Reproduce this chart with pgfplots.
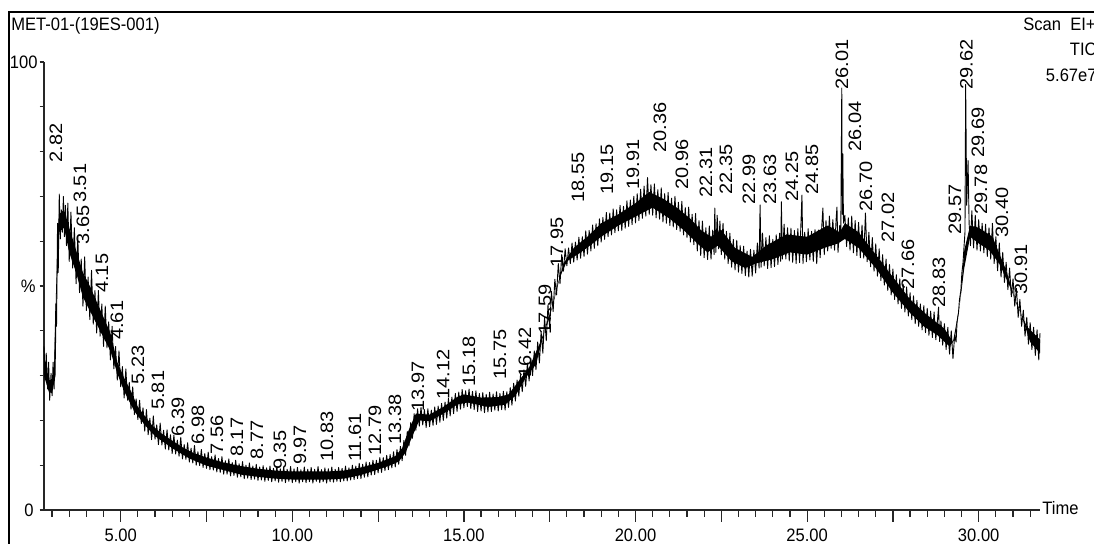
\documentclass[border=0pt]{standalone}
\usepackage{fontspec}
\setmainfont{Liberation Sans}
\newfontfamily\narrowfont[FakeStretch=0.92]{Liberation Sans}
\usepackage{graphicx}
\usepackage{pgfplots}
\pgfplotsset{compat=1.18}
\newcommand{\pk}[3]{\node[rotate=90,anchor=west,inner sep=0pt,font=\fontsize{10}{12}\selectfont] at (axis cs:#1,#2) {\scalebox{1}[0.9]{#3}};}
\begin{document}
\begin{tikzpicture}[x=1pt,y=1pt]
\useasboundingbox (-22,-17) rectangle (525,255);
\draw[line width=0.75pt] (-17.5,-30) -- (-17.5,249) -- (540,249);
\node[anchor=base west,inner sep=0pt,font=\narrowfont\fontsize{9}{11}\selectfont] at (-16.5,239.65) {MET-01-(19ES-001)};
\node[anchor=base east,inner sep=0pt,font=\narrowfont\fontsize{9}{11}\selectfont] at (526,239.65) {Scan\ \ EI+};
\node[anchor=base east,inner sep=0pt,font=\narrowfont\fontsize{9}{11}\selectfont] at (526.5,227) {TIC};
\node[anchor=base east,inner sep=0pt,font=\narrowfont\fontsize{9}{11}\selectfont] at (526.5,214.2) {5.67e7};
\begin{axis}[
  at={(0,0)}, anchor=south west, scale only axis,
  width=498pt, height=224pt,
  xmin=2.765, xmax=31.786, ymin=0, ymax=100,
  axis x line*=bottom, axis y line*=left,
  xtick={5,10,15,20,25,30},
  xticklabels={5.00,10.00,15.00,20.00,25.00,30.00},
  extra x ticks={7.5,12.5,17.5,22.5,27.5},
  extra x tick labels={},
  minor xtick={3,3.5,...,31.5},
  ytick={0,10,...,100},
  yticklabels={0\kern2pt,,,,,\%\kern1pt,,,,,100},
  tick align=outside,
  major tick length=6pt, minor tick length=3.5pt,
  y tick style={/pgfplots/major tick length=2.2pt},
  tick style={black!85, line width=0.6pt},
  axis line style={black!85, line width=0.8pt},
  xticklabel style={font=\narrowfont\fontsize{9}{11}\selectfont, inner sep=0pt, yshift=-3.2pt},
  yticklabel style={font=\narrowfont\fontsize{9}{11}\selectfont, inner sep=0pt, xshift=3pt},
  clip=false,
]
\addplot[fill=black, draw=none] coordinates {
(2.765,34) (2.9,29) (3.05,29) (3.12,50) (3.2,66) (3.35,67) (3.5,63) (3.7,58) (3.9,53) (4.1,50) (4.3,46.5) (4.5,43) (4.7,39.5) (4.9,33) (5.1,29.5) (5.3,26.5) (5.5,23) (5.7,21) (5.9,19) (6.2,17) (6.5,15.5) (6.8,14) (7.1,12.8) (7.5,11.7) (8.0,10.6) (8.5,9.8) (9.0,9.2) (9.5,8.8) (10,8.6) (11,8.6) (11.5,8.8) (12,9.5) (12.5,10.5) (13.0,12.0) (13.2,13.8) (13.4,18.0) (13.6,21.5) (14.0,21.3) (14.4,23.0) (14.8,25.2) (15.0,25.8) (15.5,25.1) (16.0,25.2) (16.3,25.8) (16.6,28.8) (16.9,31.8) (17.2,37.0) (17.5,43.0) (17.7,49.5) (17.9,55.0) (18.2,58.5) (18.6,61.0) (19.0,64.0) (19.5,66.0) (20.0,68.5) (20.4,71.0) (20.8,69.5) (21.2,67.5) (21.6,65.0) (21.9,62.5) (22.2,61.0) (22.5,62.5) (22.9,58.5) (23.4,56.5) (23.8,59.0) (24.4,61.5) (25.0,61.0) (25.6,63.5) (25.95,62.0) (26.1,64.0) (26.5,62.0) (27.0,57.0) (27.5,52.0) (28.0,47.0) (28.5,43.5) (29.0,40.5) (29.25,37.5) (29.45,46.0) (29.58,58) (29.75,63.5) (30.0,63.0) (30.4,61.0) (30.8,53.5) (31.1,46.0) (31.4,41.0) (31.786,38)
(31.786,35) (31.5,37.5) (31.2,44.5) (30.9,50) (30.6,55) (30.3,58) (30.0,59.5) (29.75,61) (29.58,54) (29.45,46) (29.3,38) (29.15,36.5) (28.8,39.0) (28.4,41.0) (28.0,44.0) (27.5,48.5) (27.0,54.0) (26.5,58.5) (26.1,60.5) (25.9,59.5) (25.5,58.5) (25.0,57.0) (24.5,57.5) (24.0,56.0) (23.5,55.0) (23.2,54.0) (22.8,55.5) (22.4,59.0) (22.1,57.5) (21.8,59.5) (21.4,62.5) (21.0,65.0) (20.5,67.5) (20.0,65.5) (19.5,63.5) (19.0,61.0) (18.5,58.0) (18.0,55.5) (17.8,52.0) (17.6,46.0) (17.4,41.5) (17.1,32.5) (16.8,29.5) (16.5,25.5) (16.2,23.5) (15.7,23.0) (15.1,24.0) (14.8,23.5) (14.4,21.5) (14.0,19.8) (13.7,20.0) (13.5,16.5) (13.3,12.8) (13.1,10.8) (12.8,9.8) (12.4,8.8) (12.0,7.8) (11.5,7.0) (11.0,6.8) (10.0,6.8) (9.5,7.0) (9.0,7.4) (8.5,7.9) (8.0,8.9) (7.5,9.9) (7.0,11.5) (6.5,13.8) (6.0,16.5) (5.7,19.0) (5.4,22.0) (5.1,26.5) (4.9,30.5) (4.7,35.5) (4.5,38.5) (4.3,41.5) (4.1,44.5) (3.9,47.5) (3.7,53) (3.5,57.5) (3.35,63) (3.2,62) (3.14,50) (3.1,30) (3.0,26) (2.9,26.5) (2.765,30)
} -- cycle;
\addplot[black, line width=0.45pt, line join=round] table {
2.765 36.5
2.80 29
2.83 35
2.87 27
2.90 33
2.93 24.5
2.97 30.5
3.00 25.5
3.03 33
3.06 27
3.09 38
3.11 46
3.13 41
3.16 64
3.18 53
3.21 70.5
3.24 60.5
3.27 67
3.30 62
3.33 70
3.36 61
3.39 68
3.42 59
3.46 68.5
3.50 55.5
3.55 66.5
3.60 54
3.65 63
3.70 50.5
3.75 61
3.80 48.5
3.85 56
3.90 45.5
3.95 56.5
4.00 44.5
4.05 52
4.10 42.5
4.15 53.5
4.20 41.5
4.25 49
4.30 39.5
4.35 49
4.40 38.8
4.45 46
4.50 36.5
4.55 45.5
4.60 36.2
4.65 42
4.70 33.5
4.75 41
4.80 31.5
4.85 36.5
4.90 29
4.95 35.5
5.00 27.5
5.05 32
5.10 25
5.15 31.5
5.20 24.5
5.25 28.5
5.30 22.5
5.35 27.5
5.40 21.3
5.45 24.8
5.50 20.2
5.55 24.5
5.60 19.3
5.65 22.8
5.70 17.6
5.75 22.4
5.80 16.8
5.85 20.5
5.90 15.7
5.95 21.0
6.00 15.8
6.05 19.0
6.10 14.6
6.15 19.4
6.20 14.5
6.25 17.8
6.30 13.6
6.35 17.9
6.40 13.4
6.45 16.8
6.50 12.6
6.55 16.7
6.60 12.5
6.65 15.6
6.70 12.0
6.75 16.2
6.80 11.4
6.85 14.6
6.90 11.3
6.95 15.0
7.00 10.7
7.05 13.8
7.10 10.5
7.15 14.4
7.20 10.0
7.25 13.0
7.30 9.9
7.35 13.5
7.40 9.5
7.45 12.6
7.50 9.3
7.55 12.9
7.60 9.0
7.65 11.9
7.70 8.9
7.75 12.3
7.80 8.5
7.85 11.5
7.90 8.4
7.95 11.9
8.00 8.0
8.05 11.0
8.10 8.0
8.15 11.4
8.20 7.6
8.25 10.6
8.30 7.7
8.35 11.1
8.40 7.3
8.45 10.3
8.50 7.4
8.55 10.8
8.60 7.0
8.65 10.0
8.70 7.1
8.75 10.5
8.80 6.8
8.85 9.8
8.90 6.9
8.95 10.2
9.00 6.6
9.05 9.6
9.10 6.7
9.15 9.9
9.20 6.4
9.25 9.4
9.30 6.6
9.35 9.8
9.40 6.3
9.45 9.3
9.50 6.5
9.55 9.7
9.60 6.2
9.65 9.2
9.70 6.4
9.75 9.6
9.80 6.1
9.85 9.1
9.90 6.4
9.95 9.7
10.00 6.1
10.05 9.2
10.10 6.3
10.15 9.5
10.20 6.0
10.25 9.0
10.30 6.3
10.35 9.6
10.40 6.1
10.45 9.1
10.50 6.3
10.55 9.5
10.60 6.0
10.65 9.1
10.70 6.4
10.75 9.7
10.80 6.1
10.85 9.0
10.90 6.3
10.95 9.4
11.00 6.0
11.05 9.2
11.10 6.3
11.15 9.6
11.20 6.2
11.25 9.1
11.30 6.4
11.35 9.5
11.40 6.3
11.45 9.3
11.50 6.5
11.55 9.8
11.60 6.5
11.65 9.4
11.70 6.7
11.75 10.0
11.80 6.8
11.85 9.8
11.90 7.0
11.95 10.4
12.00 7.0
12.05 10.2
12.10 7.3
12.15 10.7
12.20 7.4
12.25 10.6
12.30 7.8
12.35 11.1
12.40 7.9
12.45 11.1
12.50 8.3
12.55 11.7
12.60 8.4
12.65 11.7
12.70 8.8
12.75 12.2
12.80 9.0
12.85 12.4
12.90 9.4
12.95 13.0
13.00 9.6
13.05 13.5
13.10 10.2
13.15 14.2
13.20 11.0
13.25 15.5
13.30 12.2
13.35 17.5
13.40 14.3
13.45 19.5
13.50 16.0
13.55 21.5
13.60 17.8
13.65 22.6
13.70 18.7
13.75 22.9
13.80 19.0
13.85 22.4
13.90 18.4
13.95 22.6
14.00 18.6
14.05 22.3
14.10 18.9
14.15 23.0
14.20 19.1
14.25 23.2
14.30 19.6
14.35 23.8
14.40 20.0
14.45 24.1
14.50 20.5
14.55 24.9
14.60 21.0
14.65 25.2
14.70 21.5
14.75 26.0
14.80 22.0
14.85 26.3
14.90 22.5
14.95 26.9
15.00 22.8
15.05 26.6
15.10 23.1
15.15 27.0
15.20 22.6
15.25 26.5
15.30 22.4
15.35 26.6
15.40 22.0
15.45 26.0
15.50 22.1
15.55 26.2
15.60 21.7
15.65 25.8
15.70 21.9
15.75 26.3
15.80 22.0
15.85 25.9
15.90 22.3
15.95 26.4
16.00 22.1
16.05 26.0
16.10 22.4
16.15 26.5
16.20 22.3
16.25 26.4
16.30 22.9
16.35 27.3
16.40 23.4
16.45 28.3
16.50 24.3
16.55 29.0
16.60 25.4
16.65 30.2
16.70 26.4
16.75 31.3
16.80 27.6
16.85 32.8
16.90 28.8
16.95 33.8
17.00 30.0
17.05 35.5
17.10 31.3
17.15 37.5
17.20 32.8
17.25 39.8
17.30 35.0
17.35 43.0
17.40 37.8
17.45 45.8
17.50 40.5
17.55 48.8
17.60 44.3
17.65 51.5
17.70 48.0
17.75 55.0
17.80 50.5
17.85 57.0
17.90 53.3
17.95 58.3
18.00 54.5
18.05 58.5
18.10 55.0
18.15 59.6
18.20 55.3
18.25 59.8
18.30 55.8
18.35 60.9
18.40 56.2
18.45 61.0
18.50 56.6
18.55 62.3
18.60 57.1
18.65 62.4
18.70 57.8
18.75 63.6
18.80 58.4
18.85 63.9
18.90 59.0
18.95 65.0
19.00 59.8
19.05 65.3
19.10 60.4
19.15 66.4
19.20 61.0
19.25 66.3
19.30 61.4
19.35 67.2
19.40 61.9
19.45 67.0
19.50 62.3
19.55 68.0
19.60 62.4
19.65 67.8
19.70 62.9
19.75 69.0
19.80 63.3
19.85 69.2
19.90 63.7
19.95 70.0
20.00 64.1
20.05 70.6
20.10 64.6
20.15 71.6
20.20 65.1
20.25 72.3
20.30 65.6
20.35 74.2
20.40 66.0
20.45 72.6
20.50 65.8
20.55 72.8
20.60 65.2
20.65 71.5
20.70 64.9
20.75 71.9
20.80 64.3
20.85 70.6
20.90 64.0
20.95 70.9
21.00 63.5
21.05 69.6
21.10 63.2
21.15 70.0
21.20 62.6
21.25 68.7
21.30 62.2
21.35 68.9
21.40 61.4
21.45 67.5
21.50 60.8
21.55 67.6
21.60 59.8
21.65 66.0
21.70 59.2
21.75 66.2
21.80 57.8
21.85 64.6
21.90 56.8
21.95 64.5
22.00 56.3
22.05 63.0
22.10 55.9
22.15 63.4
22.20 56.0
22.25 62.5
22.29 57.0
22.31 67.4
22.34 57.5
22.38 65.8
22.42 58.3
22.46 64.5
22.50 57.0
22.55 64.0
22.60 56.0
22.65 62.2
22.70 55.0
22.75 61.8
22.80 54.2
22.85 60.4
22.90 53.6
22.95 60.2
23.00 53.1
23.05 59.0
23.10 52.8
23.15 58.9
23.20 52.3
23.25 57.8
23.30 52.0
23.35 58.2
23.40 52.2
23.45 58.0
23.50 52.9
23.55 59.6
23.60 54.0
23.63 68.1
23.66 54.2
23.70 61.8
23.75 54.5
23.80 60.8
23.85 53.9
23.90 61.2
23.95 54.1
24.00 60.4
24.05 54.3
24.10 61.4
24.15 54.8
24.20 61.8
24.23 55.5
24.25 68.8
24.28 56.0
24.33 63.8
24.38 56.0
24.43 63.0
24.48 55.6
24.53 62.9
24.58 55.3
24.63 62.4
24.68 55.0
24.73 62.8
24.78 55.2
24.85 70.3
24.88 55.0
24.93 62.0
24.98 55.4
25.03 62.8
25.08 55.8
25.13 62.2
25.18 55.5
25.23 62.6
25.28 55.0
25.33 62.5
25.38 56.3
25.43 63.6
25.46 67.4
25.50 57.0
25.55 64.6
25.60 57.8
25.65 65.6
25.70 58.4
25.75 64.8
25.80 58.0
25.85 65.5
25.87 67.6
25.90 57.5
25.95 63.5
25.98 60.0
26.01 94.2
26.025 66
26.04 79.5
26.06 64
26.10 65.8
26.15 58.8
26.20 65.2
26.25 58.0
26.30 65.6
26.35 57.4
26.40 64.6
26.45 56.8
26.50 64.2
26.55 56.3
26.60 63.6
26.65 56.2
26.70 66.3
26.75 55.4
26.80 62.0
26.85 54.3
26.90 60.8
26.95 53.3
27.00 59.4
27.05 52.2
27.10 58.3
27.15 51.2
27.20 57.0
27.25 50.2
27.30 56.0
27.35 49.0
27.40 54.8
27.45 48.0
27.50 53.8
27.55 47.0
27.60 52.5
27.65 46.0
27.70 51.6
27.75 45.0
27.80 50.4
27.85 44.2
27.90 49.8
27.95 43.3
28.00 48.5
28.05 42.5
28.10 47.8
28.15 41.6
28.20 46.8
28.25 41.0
28.30 46.0
28.35 40.2
28.40 45.6
28.45 39.6
28.50 45.0
28.55 39.0
28.60 44.4
28.65 38.5
28.70 44.2
28.75 38.0
28.80 42.5
28.83 45.3
28.86 37.6
28.90 42.2
28.95 36.8
29.00 41.6
29.05 35.8
29.10 40.8
29.15 34.8
29.20 40.0
29.25 33.8
29.30 39.0
29.34 37.5
29.37 42.0
29.41 44.0
29.44 47.0
29.48 49.0
29.51 53.0
29.54 55.0
29.57 58.5
29.60 62.0
29.62 95.0
29.65 68
29.69 78.0
29.72 64
29.76 59.0
29.80 66.8
29.85 58.5
29.90 65.8
29.95 58.0
30.00 64.8
30.05 57.8
30.10 64.0
30.15 57.4
30.20 63.8
30.25 56.6
30.30 63.0
30.35 56.0
30.40 64.0
30.45 55.0
30.50 61.0
30.55 53.4
30.60 59.6
30.65 52.0
30.70 57.5
30.75 50.8
30.80 55.3
30.85 49.2
30.90 54.0
30.95 47.6
31.00 51.6
31.05 45.5
31.10 49.5
31.15 43.0
31.20 47.0
31.25 41.0
31.30 44.6
31.35 38.8
31.40 43.0
31.45 37.0
31.50 41.8
31.55 35.8
31.60 40.8
31.65 34.5
31.70 40.2
31.75 33.5
31.786 39.5
};
\pk{3.115}{77.5}{2.82}
\pk{3.814}{68.5}{3.51}
\pk{3.902}{59.2}{3.65}
\pk{4.455}{48.4}{4.15}
\pk{4.892}{37.9}{4.61}
\pk{5.504}{27.9}{5.23}
\pk{6.087}{22.3}{5.81}
\pk{6.670}{16.3}{6.39}
\pk{7.252}{14.5}{6.98}
\pk{7.806}{12.3}{7.56}
\pk{8.389}{11.8}{8.17}
\pk{8.972}{11.2}{8.77}
\pk{9.642}{8.9}{9.35}
\pk{10.225}{10.0}{9.97}
\pk{11.011}{10.7}{10.83}
\pk{11.827}{10.7}{11.61}
\pk{12.410}{12.1}{12.79}
\pk{12.993}{14.5}{13.38}
\pk{13.663}{21.9}{13.97}
\pk{14.392}{24.6}{14.12}
\pk{15.149}{27.5}{15.18}
\pk{16.052}{29.0}{15.75}
\pk{16.779}{29.5}{16.42}
\pk{17.363}{39.1}{17.59}
\pk{17.713}{54.0}{17.95}
\pk{18.325}{68.5}{18.55}
\pk{19.170}{70.3}{19.15}
\pk{19.927}{71.4}{19.91}
\pk{20.714}{79.7}{20.36}
\pk{21.355}{71.4}{20.96}
\pk{22.054}{69.6}{22.31}
\pk{22.637}{70.3}{22.35}
\pk{23.307}{68.1}{22.99}
\pk{23.919}{68.1}{23.63}
\pk{24.560}{68.8}{24.25}
\pk{25.142}{70.3}{24.85}
\pk{26.017}{93.75}{26.01}
\pk{26.396}{79.9}{26.04}
\pk{26.716}{66.5}{26.70}
\pk{27.357}{59.6}{27.02}
\pk{27.940}{49.1}{27.66}
\pk{28.843}{45.1}{28.83}
\pk{29.310}{61.4}{29.57}
\pk{29.645}{93.75}{29.62}
\pk{29.980}{78.6}{29.69}
\pk{30.067}{65.8}{29.78}
\pk{30.679}{60.7}{30.40}
\pk{31.233}{48.0}{30.91}
\end{axis}
\node[anchor=west,inner sep=0pt,font=\narrowfont\fontsize{9}{11}\selectfont] at (499,1) {Time};
\end{tikzpicture}
\end{document}
